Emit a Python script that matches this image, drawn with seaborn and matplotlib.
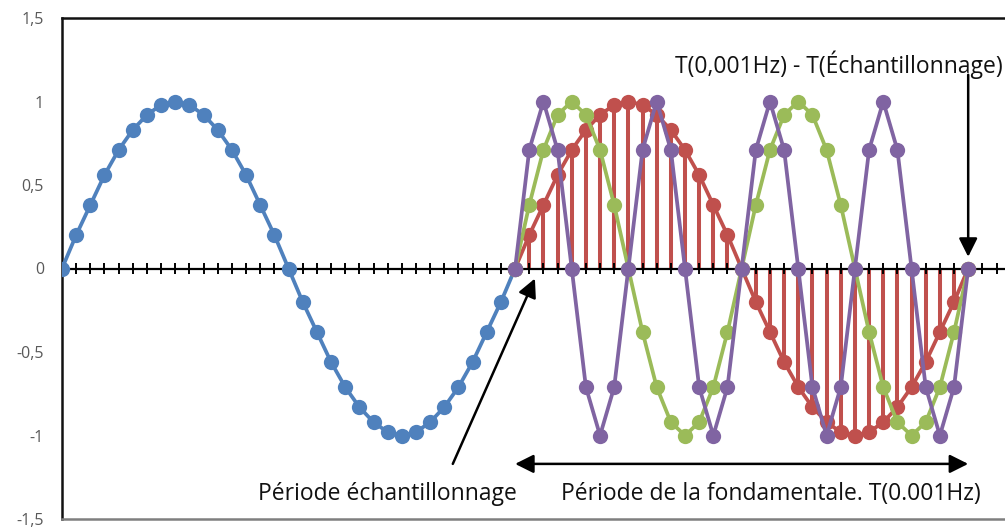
import matplotlib
matplotlib.use("Agg")
import matplotlib.pyplot as plt
import numpy as np
import pandas as pd
import seaborn as sns

# Sample values (one sample per category step)
blue_values = [0, 0.2, 0.38, 0.56, 0.71, 0.83, 0.92, 0.98, 1, 0.98, 0.92, 0.83, 0.71, 0.56, 0.38, 0.2,
               0, -0.2, -0.38, -0.56, -0.71, -0.83, -0.92, -0.98, -1, -0.98, -0.92, -0.83, -0.71, -0.56, -0.38, -0.2, 0]
red_values = [0, 0.2, 0.38, 0.56, 0.71, 0.83, 0.92, 0.98, 1, 0.98, 0.92, 0.83, 0.71, 0.56, 0.38, 0.2,
              0, -0.2, -0.38, -0.56, -0.71, -0.83, -0.92, -0.98, -1, -0.98, -0.92, -0.83, -0.71, -0.56, -0.38, -0.2, 0]
green_values = [0, 0.38, 0.71, 0.92, 1, 0.92, 0.71, 0.38, 0, -0.38, -0.71, -0.92, -1, -0.92, -0.71, -0.38,
                0, 0.38, 0.71, 0.92, 1, 0.92, 0.71, 0.38, 0, -0.38, -0.71, -0.92, -1, -0.92, -0.71, -0.38, 0]
purple_values = [0, 0.71, 1, 0.71, 0, -0.71, -1, -0.71, 0, 0.71, 1, 0.71, 0, -0.71, -1, -0.71,
                 0, 0.71, 1, 0.71, 0, -0.71, -1, -0.71, 0, 0.71, 1, 0.71, 0, -0.71, -1, -0.71, 0]

blue_start = 0
shifted_start = 32
n_categories = 67

y_ticks = [-1.5, -1, -0.5, 0, 0.5, 1, 1.5]
y_tick_labels = ["-1,5", "-1", "-0,5", "0", "0,5", "1", "1,5"]

series_names = ["bleu", "rouge", "vert", "violet"]
series_colors = ["#4F81BD", "#C0504D", "#9BBB59", "#8064A2"]

frames = []
for name, start, vals in [("bleu", blue_start, blue_values),
                          ("rouge", shifted_start, red_values),
                          ("vert", shifted_start, green_values),
                          ("violet", shifted_start, purple_values)]:
    frames.append(pd.DataFrame({"x": np.arange(start, start + len(vals)),
                                "y": vals, "serie": name}))
df = pd.concat(frames, ignore_index=True)

sns.set_theme(style="white")
plt.rcParams["font.family"] = ["Open Sans", "DejaVu Sans"]

fig = plt.figure(figsize=(10.05, 5.29), dpi=100)
ax = fig.add_axes([62 / 1005, 10 / 529, 1 - 62 / 1005, 501 / 529])

# drop lines for the red series
red_x = np.arange(shifted_start, shifted_start + len(red_values))
ax.vlines(red_x, 0, red_values, color="#C0504D", lw=2.9, zorder=2)

sns.lineplot(data=df, x="x", y="y", hue="serie", hue_order=series_names,
             palette=series_colors, marker="o", markersize=11, markeredgewidth=0,
             linewidth=2.7, dashes=False, legend=False, ax=ax, zorder=3,
             estimator=None, sort=False)

ax.set_xlim(0, 66.6)
ax.set_ylim(-1.5, 1.5)

# horizontal axis through zero with crossing ticks
ax.axhline(0, color="black", lw=1.6, zorder=2.5)
ax.vlines(np.arange(1, n_categories), -0.03, 0.03, color="black", lw=1.4, zorder=2.5)

ax.set_xticks([])
ax.set_yticks(y_ticks)
ax.set_yticklabels(y_tick_labels, fontsize=11.5, color="#595959")
ax.tick_params(axis="y", length=0, pad=13)
ax.set_xlabel("")
ax.set_ylabel("")

for side in ["left", "top"]:
    ax.spines[side].set_color("#111111")
    ax.spines[side].set_linewidth(1.8)
ax.spines["bottom"].set_color("#7f7f7f")
ax.spines["bottom"].set_linewidth(1.8)
ax.spines["right"].set_visible(False)

text_kw = dict(fontsize=16.5, color="#111111")
head = dict(arrowstyle="-|>,head_length=0.8,head_width=0.4", color="black",
            lw=1.8, mutation_scale=14, shrinkA=0, shrinkB=0)

ax.text(43.3, 1.22, "T(0,001Hz) - T(Échantillonnage)", ha="left", va="center", **text_kw)
ax.annotate("", xy=(64, 0.07), xytext=(64, 1.16), arrowprops=head)

ax.text(23.0, -1.35, "Période échantillonnage", ha="center", va="center", **text_kw)
ax.annotate("", xy=(33.4, -0.06), xytext=(27.6, -1.17), arrowprops=head)

both = dict(head)
both["arrowstyle"] = "<|-|>,head_length=0.8,head_width=0.4"
ax.annotate("", xy=(64, -1.17), xytext=(32, -1.17), arrowprops=both)
ax.text(50.1, -1.35, "Période de la fondamentale. T(0.001Hz)", ha="center", va="center", **text_kw)

fig.savefig("out.png", dpi=100)
